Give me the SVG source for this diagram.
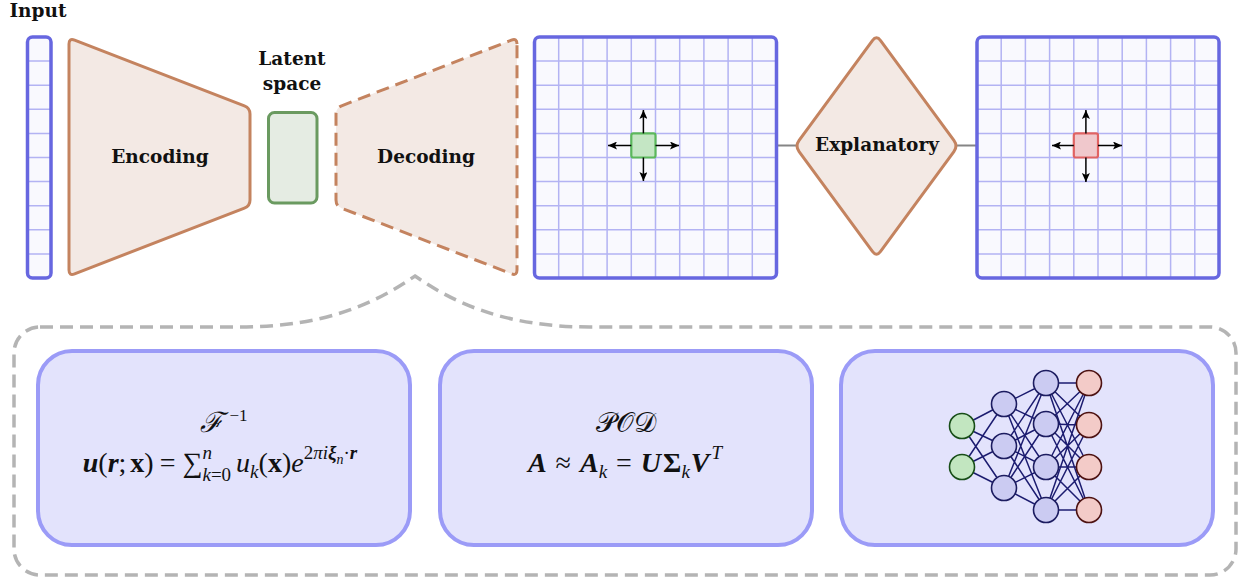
<svg xmlns="http://www.w3.org/2000/svg" xmlns:xlink="http://www.w3.org/1999/xlink" width="1242" height="580" viewBox="0 0 1242 580">
<style>
.lbl{font-family:"DejaVu Serif","Liberation Serif",serif;font-weight:bold;font-size:18.5px;fill:#111;text-anchor:middle}
.brown{fill:#f3e9e4;stroke:#c4835f;stroke-width:3;stroke-linejoin:round}
.gridborder{fill:none;stroke:#6767e0;stroke-width:3.5}
.gridfill{fill:#f9f9fe}
.gridline{stroke:#b3b3f3;stroke-width:1.5;fill:none}
.arr{stroke:#000;stroke-width:1.5;fill:none;marker-end:url(#ah)}
.conn{stroke:#858585;stroke-width:2.2;fill:none}
.math{font-family:"Liberation Serif","DejaVu Serif",serif;font-size:28px;fill:#111}
.bi{font-weight:bold;font-style:italic}
.b{font-weight:bold}
.it{font-style:italic}
.panel{fill:#e3e3fc;stroke:#9b9bf7;stroke-width:4}
.nn{stroke:#1c1c70;stroke-width:1.5}
.nh{fill:#cbcbf2;stroke:#1c1c60;stroke-width:1.6}
.ni{fill:#c2e6c0;stroke:#174d17;stroke-width:1.6}
.no{fill:#f3cbc8;stroke:#4d1212;stroke-width:1.6}
</style>
<defs>
<marker id="ah" markerUnits="userSpaceOnUse" markerWidth="10" markerHeight="8" refX="9" refY="4" orient="auto">
<path d="M0,0 L9,4 L0,8 L2,4 Z" fill="#000"/>
</marker>
<g id="grid">
<rect class="gridfill" x="534.5" y="37" width="242" height="241" rx="5"/>
<path class="gridline" d="M558.7,37V278M582.9,37V278M607.1,37V278M631.3,37V278M655.5,37V278M679.7,37V278M703.9,37V278M728.1,37V278M752.3,37V278M534.5,61.1H776.5M534.5,85.2H776.5M534.5,109.3H776.5M534.5,133.4H776.5M534.5,157.5H776.5M534.5,181.6H776.5M534.5,205.7H776.5M534.5,229.8H776.5M534.5,253.9H776.5"/>
<rect class="gridborder" x="534.5" y="37" width="242" height="241" rx="5"/>
</g>
</defs>

<text class="lbl" x="38" y="17">Input</text>

<g id="input">
<rect x="27.5" y="37" width="23.5" height="241" rx="5" fill="#f9f9fe"/>
<path class="gridline" d="M29,61.1H50M29,85.2H50M29,109.3H50M29,133.4H50M29,157.5H50M29,181.6H50M29,205.7H50M29,229.8H50M29,253.9H50"/>
<rect x="27.5" y="37" width="23.5" height="241" rx="5" fill="none" stroke="#6767e0" stroke-width="3.5"/>
</g>

<g id="encoding">
<path class="brown" d="M69,44 Q69,38 74.6,40.2 L244.4,105.8 Q250,108 250,114 L250,200 Q250,206 244.4,208.2 L74.6,273.8 Q69,276 69,270 Z"/>
<text class="lbl" x="160" y="163">Encoding</text>
</g>

<g id="latent">
<text class="lbl" x="292" y="65">Latent</text>
<text class="lbl" x="292" y="90">space</text>
<rect x="268.5" y="112.5" width="48.5" height="90.5" rx="6" fill="#e5ece3" stroke="#6a9a60" stroke-width="3"/>
</g>

<g id="decoding">
<path class="brown" stroke-dasharray="13 7" d="M517,44 Q517,38 511.4,40.2 L341.6,105.8 Q336,108 336,114 L336,200 Q336,206 341.6,208.2 L511.4,273.8 Q517,276 517,270 Z"/>
<text class="lbl" x="426" y="163">Decoding</text>
</g>

<g id="connectors">
<line class="conn" x1="676" y1="145.5" x2="796" y2="145.5"/>
<line class="conn" x1="957" y1="145.5" x2="1062" y2="145.5"/>
</g>

<g id="grid-in">
<use xlink:href="#grid" href="#grid"/>
<rect x="631.3" y="133.4" width="24.2" height="24.1" rx="2" fill="#c4e6c4" stroke="#5bb85b" stroke-width="2.2"/>
<line class="arr" x1="655.5" y1="145.5" x2="679" y2="145.5"/>
<line class="arr" x1="631.3" y1="145.5" x2="608" y2="145.5"/>
<line class="arr" x1="643.4" y1="133.4" x2="643.4" y2="110"/>
<line class="arr" x1="643.4" y1="157.5" x2="643.4" y2="181"/>
</g>

<g id="explanatory">
<path class="brown" d="M880.6,40.6 L953.9,140.4 Q958,146 953.9,151.6 L880.6,251.4 Q876.5,257 872.4,251.4 L799.1,151.6 Q795,146 799.1,140.4 L872.4,40.6 Q876.5,35 880.6,40.6 Z"/>
<text class="lbl" x="877" y="151">Explanatory</text>
</g>

<g id="grid-out">
<use xlink:href="#grid" href="#grid" transform="translate(442.5,0)"/>
<rect x="1073.8" y="133.4" width="24.2" height="24.1" rx="2" fill="#f0c8cc" stroke="#e06262" stroke-width="2.2"/>
<line class="arr" x1="1098" y1="145.5" x2="1122" y2="145.5"/>
<line class="arr" x1="1073.8" y1="145.5" x2="1052" y2="145.5"/>
<line class="arr" x1="1085.9" y1="133.4" x2="1085.9" y2="110"/>
<line class="arr" x1="1085.9" y1="157.5" x2="1085.9" y2="182"/>
</g>

<g id="container">
<path fill="none" stroke="#b4b4b4" stroke-width="3.5" stroke-dasharray="13 7" d="M40,327 L240,327 C330,327 380,300 415,276 C450,300 500,327 590,327 L1210,327 A26,26 0 0 1 1236,353 L1236,549 A26,26 0 0 1 1210,575 L40,575 A26,26 0 0 1 14,549 L14,353 A26,26 0 0 1 40,327 Z"/>
</g>

<g id="fourier">
<rect class="panel" x="38" y="351" width="372" height="194" rx="34"/>
<text class="math" x="224" y="432" text-anchor="middle" font-size="26"><tspan class="it">ℱ</tspan><tspan font-size="17" dx="6" dy="-11">−1</tspan></text>
<text class="math" x="220" y="472" text-anchor="middle"><tspan class="bi">u</tspan>(<tspan class="bi">r</tspan>;<tspan dx="4" class="b">x</tspan>)<tspan dx="6">=</tspan><tspan dx="7">∑</tspan><tspan class="it" font-size="19" dy="-13">n</tspan><tspan font-size="19" dx="-9.5" dy="22"><tspan class="it">k</tspan>=0</tspan><tspan class="it" dx="5" dy="-9">u</tspan><tspan class="it" font-size="19" dy="6">k</tspan><tspan dy="-6">(</tspan><tspan class="b">x</tspan>)<tspan class="it">e</tspan><tspan font-size="19" dy="-13">2<tspan class="it">πi</tspan><tspan class="bi">ξ</tspan></tspan><tspan class="it" font-size="14" dy="5">n</tspan><tspan font-size="19" dy="-5">·</tspan><tspan class="bi" font-size="19">r</tspan></text>
</g>

<g id="pod">
<rect class="panel" x="440" y="351" width="372" height="194" rx="34"/>
<text class="math" x="626" y="432" text-anchor="middle" font-size="30">𝒫𝒪𝒟</text>
<text class="math" x="625" y="472" text-anchor="middle"><tspan class="bi">A</tspan><tspan dx="9">≈</tspan><tspan class="bi" dx="9">A</tspan><tspan class="it" font-size="19" dy="6">k</tspan><tspan dy="-6" dx="9">=</tspan><tspan class="bi" dx="9">U</tspan><tspan class="b" dx="2">Σ</tspan><tspan class="it" font-size="19" dy="6">k</tspan><tspan class="bi" dx="1" dy="-6">V</tspan><tspan class="it" font-size="19" dx="2" dy="-13">T</tspan></text>
</g>

<g id="network">
<rect class="panel" x="841" y="351" width="372" height="194" rx="34"/>
<g class="nn">
<path d="M962,426L1004,404M962,426L1004,446M962,426L1004,488M962,467L1004,404M962,467L1004,446M962,467L1004,488"/>
<path d="M1004,404L1046,383M1004,404L1046,424M1004,404L1046,467M1004,404L1046,510M1004,446L1046,383M1004,446L1046,424M1004,446L1046,467M1004,446L1046,510M1004,488L1046,383M1004,488L1046,424M1004,488L1046,467M1004,488L1046,510"/>
<path d="M1046,383L1089,383M1046,383L1089,425M1046,383L1089,467M1046,383L1089,510M1046,424L1089,383M1046,424L1089,425M1046,424L1089,467M1046,424L1089,510M1046,467L1089,383M1046,467L1089,425M1046,467L1089,467M1046,467L1089,510M1046,510L1089,383M1046,510L1089,425M1046,510L1089,467M1046,510L1089,510"/>
</g>
<ellipse class="ni" cx="962" cy="426" rx="12.5" ry="12.5"/>
<ellipse class="ni" cx="962" cy="467" rx="12.5" ry="12.5"/>
<ellipse class="nh" cx="1004" cy="404" rx="12.5" ry="12.5"/>
<ellipse class="nh" cx="1004" cy="446" rx="12.5" ry="12.5"/>
<ellipse class="nh" cx="1004" cy="488" rx="12.5" ry="12.5"/>
<ellipse class="nh" cx="1046" cy="383" rx="12.5" ry="12.5"/>
<ellipse class="nh" cx="1046" cy="424" rx="12.5" ry="12.5"/>
<ellipse class="nh" cx="1046" cy="467" rx="12.5" ry="12.5"/>
<ellipse class="nh" cx="1046" cy="510" rx="12.5" ry="12.5"/>
<ellipse class="no" cx="1089" cy="383" rx="12.5" ry="12.5"/>
<ellipse class="no" cx="1089" cy="425" rx="12.5" ry="12.5"/>
<ellipse class="no" cx="1089" cy="467" rx="12.5" ry="12.5"/>
<ellipse class="no" cx="1089" cy="510" rx="12.5" ry="12.5"/>
</g>
</svg>
